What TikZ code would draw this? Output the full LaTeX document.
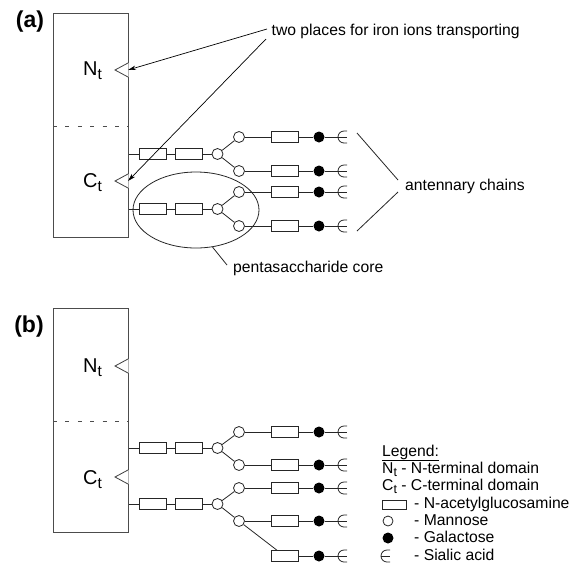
\documentclass[tikz,border=0pt]{standalone}
\usepackage{fontspec}
\setmainfont{Liberation Sans}
\usetikzlibrary{shapes.geometric,arrows.meta,calc}

\tikzset{
  ln/.style={line width=0.8pt, black!85},
  nag/.style={draw=black!85, line width=0.8pt, rectangle, minimum width=27pt, minimum height=11pt, inner sep=0pt, fill=white},
  man/.style={draw=black!85, line width=0.8pt, circle, minimum size=11pt, inner sep=0pt, fill=white},
  gal/.style={fill=black, circle, minimum size=11pt, inner sep=0pt},
  domainbox/.style={draw=black!70, line width=1pt, minimum width=75pt, minimum height=224pt, inner sep=0pt},
  lbl/.style={font=\fontsize{15.7}{18}\selectfont, inner sep=0pt},
  dom/.style={font=\fontsize{20}{24}\selectfont, inner sep=0pt},
  panel/.style={font=\fontsize{23}{27}\selectfont\bfseries, inner sep=0pt},
  arr/.style={line width=0.7pt, black, -{Stealth[length=8pt,width=4.5pt]}},
}

% subscripts
\newcommand\domsub[1]{\raisebox{-4pt}{\fontsize{15.5}{0}\selectfont #1}}
\newcommand\lgsub[1]{\raisebox{-3pt}{\fontsize{12.5}{0}\selectfont #1}}

% sialic acid symbol at a coordinate (left point of the arc)
\newcommand\sialsym[1]{%
  \draw[ln] ($(#1)+(9,-6)$) -- ++(-3,0) arc[start angle=90,end angle=270,radius=6pt] -- ++(3,0);
  \draw[ln] (#1) -- ++(9,0);}

% tail: NAG - Gal - Sia
\newcommand\tailchain[3]{% name, y, parent
  \node[nag] (#1n) at (284.5,#2) {};
  \node[gal] (#1g) at (319,#2) {};
  \coordinate (#1s) at (338,#2);
  \draw[ln] (#3) -- (#1n);
  \draw[ln] (#1n) -- (#1g);
  \draw[ln] (#1g) -- (#1s);
  \sialsym{#1s}}

% branch: Man - tail
\newcommand\branchchain[3]{% name, y, parent
  \node[man] (#1m) at (239,#2) {};
  \draw[ln] (#3) -- (#1m);
  \tailchain{#1}{#2}{#1m}}

% core: NAG - NAG - Man from the box
\newcommand\corechain[3]{% name, y, box
  \node[nag] (#1a) at (152.5,#2) {};
  \node[nag] (#1b) at (189,#2) {};
  \node[man] (#1m) at (217.5,#2) {};
  \draw[ln] (#3.east |- #1a) -- (#1a);
  \draw[ln] (#1a) -- (#1b);
  \draw[ln] (#1b) -- (#1m);}

% notch in the right edge of a box
\newcommand\notch[2]{% name, y
  \coordinate (#1) at (128,#2);
  \fill[white] (128.8,#2-7) -- (115,#2) -- (128.8,#2+7) -- cycle;
  \draw[black!30, line width=0.5pt] (128,#2-7) -- (128,#2+7);
  \draw[line width=0.8pt, black!75] (128,#2-7) -- (115,#2) -- (128,#2+7);}

\begin{document}
\begin{tikzpicture}[x=1pt,y=-1pt]
\useasboundingbox (0,0) rectangle (581,566);

% ================= panel (a) =================
\node[panel] (pa) at (30,22) {(a)};
\node[domainbox] (boxA) at (90.5,125) {};
\draw[black!70, line width=0.9pt, dash pattern=on 4pt off 8.4pt] (53,126) -- (128,126);
\notch{nA}{70}
\notch{cA}{181}
\node[dom, anchor=base west] (ntA) at (83,75) {N\domsub{t}};
\node[dom, anchor=base west] (ctA) at (83,187) {C\domsub{t}};

\corechain{a1}{154}{boxA}
\branchchain{a11}{137}{a1m}
\branchchain{a12}{171}{a1m}
\corechain{a2}{209}{boxA}
\branchchain{a21}{192}{a2m}
\branchchain{a22}{226}{a2m}

\node[draw=black!85, line width=0.8pt, ellipse, minimum width=126pt, minimum height=76pt, inner sep=0pt] (core) at (196,210) {};
\node[lbl, anchor=base west] (coretxt) at (233,272) {pentasaccharide core};
\draw[ln] (core.-66) -- (227,265);

\node[lbl, anchor=base west] (tp) at (271.5,35) {two places for iron ions transporting};
\coordinate (tp1) at (267,29);
\coordinate (tp2) at (266,39);
\draw[arr] (tp1) -- (nA);
\draw[arr] (tp2) -- (cA);

\node[lbl, anchor=base west] (ant) at (405,190) {antennary chains};
\coordinate (an1) at (357,133);
\coordinate (an2) at (398,180);
\coordinate (an3) at (398,192);
\coordinate (an4) at (357,231);
\draw[ln] (an1) -- (an2);
\draw[ln] (an3) -- (an4);

% ================= panel (b) =================
\node[panel] (pb) at (29,326.5) {(b)};
\node[domainbox] (boxB) at (90.5,420.5) {};
\draw[black!70, line width=0.9pt, dash pattern=on 4pt off 8.4pt] (53,421) -- (128,421);
\notch{nB}{366}
\notch{cB}{477}
\node[dom, anchor=base west] (ntB) at (83,372) {N\domsub{t}};
\node[dom, anchor=base west] (ctB) at (83,484) {C\domsub{t}};

\corechain{b1}{448}{boxB}
\branchchain{b11}{432}{b1m}
\branchchain{b12}{465}{b1m}
\corechain{b2}{504}{boxB}
\branchchain{b21}{488}{b2m}
\branchchain{b22}{521}{b2m}
\tailchain{b23}{556}{b22m}

% ================= legend =================
\node[lbl, anchor=base west] (lg0) at (382,456) {\underline{Legend:}};
\node[lbl, anchor=base west] (lg1) at (382,473) {N\lgsub{t} - N-terminal domain};
\node[lbl, anchor=base west] (lg2) at (382,490) {C\lgsub{t} - C-terminal domain};
\node[draw=black!85, line width=0.8pt, minimum width=24pt, minimum height=9pt, inner sep=0pt] (lgr) at (394,504.5) {};
\node[lbl, anchor=base west] (lg3) at (414,508) {- N-acetylglucosamine};
\node[man, minimum size=10pt] (lgm) at (388,521) {};
\node[lbl, anchor=base west] (lg4) at (414,525) {- Mannose};
\node[gal, minimum size=11pt] (lgg) at (388,538) {};
\node[lbl, anchor=base west] (lg5) at (414,542) {- Galactose};
\coordinate (lgs) at (381,556);
\sialsym{lgs}
\node[lbl, anchor=base west] (lg6) at (414,560) {- Sialic acid};
\end{tikzpicture}
\end{document}
